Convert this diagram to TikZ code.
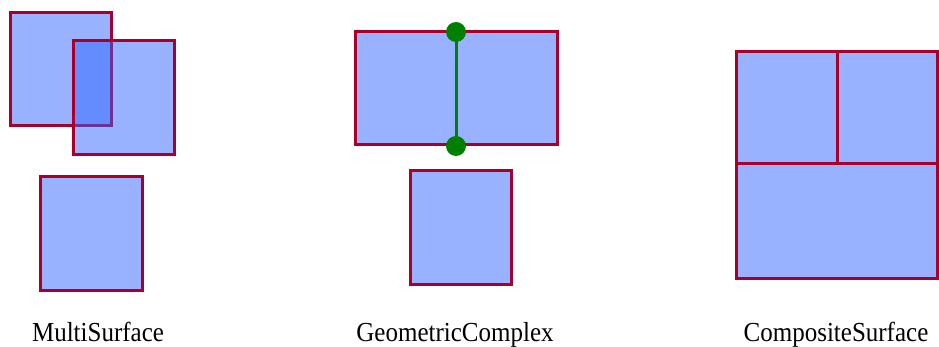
\documentclass[tikz,border=0pt]{standalone}
\usepackage{fontspec}
\setmainfont{Liberation Serif}
\usepackage{tikz}
\usetikzlibrary{positioning,calc}

\definecolor{surffill}{RGB}{51,102,255}
\definecolor{surfedge}{RGB}{168,0,42}
\definecolor{cplxgreen}{RGB}{0,128,0}

\begin{document}
\begin{tikzpicture}[x=1pt,y=-1pt,
  surf/.style={fill=surffill,fill opacity=0.5,draw=surfedge,line width=3pt},
  edgeline/.style={cplxgreen,line width=3pt},
  vertex/.style={circle,fill=cplxgreen,inner sep=0pt,minimum size=20pt},
  caption/.style={font=\fontsize{25}{30}\selectfont,anchor=base,yscale=1.1}]

\useasboundingbox (0,0) rectangle (939,347);

%% MultiSurface: three separate surfaces
\draw[surf] (10,13) rectangle (111,126);
\draw[surf] (73,41) rectangle (174,155);
\draw[surf] (40,177) rectangle (142,290);
\node[caption] (multi) at (98,341) {MultiSurface};

%% GeometricComplex: surfaces plus a curve with its end points
\draw[surf] (355,32) rectangle (557,145);
\draw[surf] (410,171) rectangle (511,284);
\coordinate (top) at (456,32);
\coordinate (bot) at (456,146);
\draw[edgeline] (top) -- (bot);
\node[vertex] (p1) at (top) {};
\node[vertex] (p2) at (bot) {};
\node[caption] (cplx) at (455,341) {GeometricComplex};

%% CompositeSurface: patches sharing their boundaries
\draw[surf] (736,52) rectangle (837,164);
\draw[surf] (837,52) rectangle (937,164);
\draw[surf] (736,164) rectangle (937,278);
\node[caption] (comp) at (836,341) {CompositeSurface};

\end{tikzpicture}
\end{document}
